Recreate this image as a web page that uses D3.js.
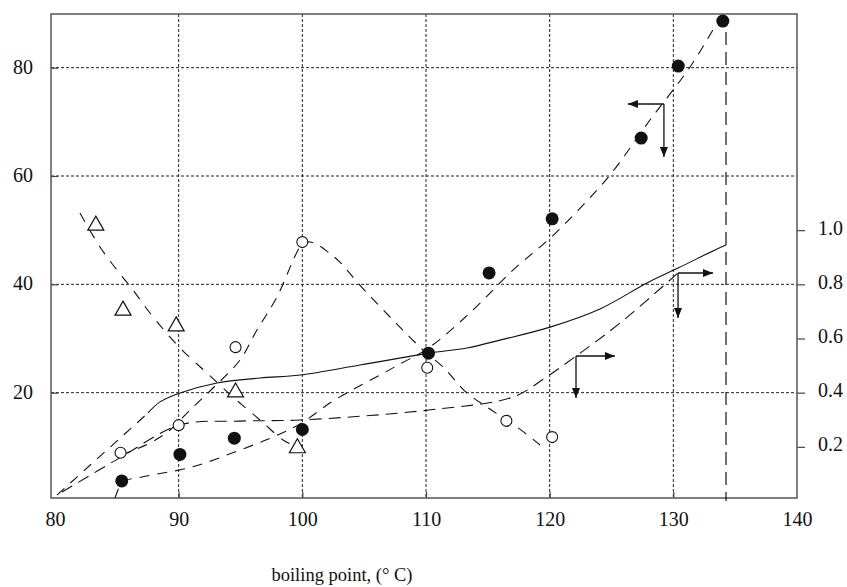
<!DOCTYPE html>
<html>
<head>
<meta charset="utf-8">
<script src="https://cdn.jsdelivr.net/npm/d3@7"></script>
<style>
body { margin: 0; background: #fff; }
svg, svg text { font-family: "Liberation Serif", "DejaVu Serif", serif; }
svg { display: block; }
</style>
</head>
<body>
<div id="chart"></div>
<script>
// x = boiling point (deg C); left-axis values unless noted
const xTicks = [80, 90, 100, 110, 120, 130, 140];
const xGrid = [90, 100, 110, 120, 130];
const leftTicks = [20, 40, 60, 80];
const rightTicks = [0.2, 0.4, 0.6, 0.8, 1.0];

const filledPts = [[85.4,3.7],[90.1,8.6],[94.5,11.6],[100.0,13.2],[110.2,27.3],[115.1,42.1],[120.2,52.1],[127.4,67.0],[130.4,80.3],[134.0,88.6]];
const openPts = [[85.3,8.9],[90.0,14.0],[94.6,28.4],[100.0,47.8],[110.1,24.6],[116.5,14.8],[120.2,11.8]];
const trianglePts = [[83.3,51.3],[85.5,35.6],[89.8,32.7],[94.6,20.5],[99.6,10.2]];

// fitted curves, left axis
const fitFilled = [[84.85,0.55],[85.09,2.03],[85.42,3.51],[87.03,4.43],[91.08,6.28],[94.96,9.41],[97.63,11.81],[99.81,14.21],[102.48,18.46],[105.23,21.97],[107.9,25.29],[110.32,28.43],[113.8,35.26],[117.03,42.64],[120.03,48.5],[122.6,54.4],[124.88,60.18],[128.11,70.33],[131.35,80.12],[133.53,88.24]];
const fitOpen = [[85.34,8.49],[87.68,10.71],[89.3,13.11],[90.92,16.8],[92.78,20.86],[94.96,26.03],[96.33,31.57],[97.95,37.66],[99.57,45.97],[100.05,47.63],[100.62,47.81],[101.27,47.26],[102.07,45.97],[103.04,44.12],[104.5,40.24],[107.33,33.41],[109.76,27.87],[111.37,24.74],[113.31,19.94],[114.93,17.35],[117.36,13.66],[119.22,10.34]];
const fitTriangle = [[82.02,53.17],[83.64,46.89],[85.01,42.64],[86.31,38.95],[87.68,34.71],[90.11,28.24],[92.29,23.63],[94.39,19.2],[96.58,14.95],[98.44,11.26],[99.41,10.15]];

// right axis curves
const solidCurve = [[87.52,0.325],[88.49,0.366],[90.11,0.399],[93.1,0.436],[96.58,0.454],[99.81,0.465],[104.66,0.502],[110.24,0.546],[113.31,0.565],[115.98,0.594],[120.03,0.642],[124.07,0.709],[127.87,0.805],[130.38,0.86],[133.37,0.927],[134.26,0.945]];
const solidLeadIn = [[80.16,0.022],[87.52,0.325]];
const dashedRight = [[80.57,0.033],[85.34,0.162],[90.11,0.281],[94.96,0.295],[99.81,0.299],[110.24,0.336],[117.03,0.384],[119.62,0.454],[122.13,0.535],[125.69,0.657],[130.38,0.842]];

// vertical dashed drop at the last point (left units)
const dropX = 134.26;
const dropY = [86.6, 0];

// arrows: corner [x, y], horizontal tip x, vertical tip y (left units)
const arrowCorner = [[129.24,73.29],[130.38,42.09],[122.13,26.77]];
const arrowTipX = [126.33, 133.21, 125.28];
const arrowTipY = [63.5, 33.78, 19.01];

const W = 847, H = 587;
const frame = {left: 51, right: 797, top: 14, bottom: 498};
const serif = "'Liberation Serif', 'DejaVu Serif', serif";

const x = d3.scaleLinear().domain([80, 140]).range([55, 797]);
const y = d3.scaleLinear().domain([0, 90]).range([501, 13.5]);
const yR = d3.scaleLinear().domain([0, 1.8]).range([501, 13.5]);

const svg = d3.select("#chart").append("svg")
    .attr("width", W).attr("height", H);

svg.append("rect").attr("width", W).attr("height", H).attr("fill", "#fff");

// grid
const grid = svg.append("g").attr("stroke", "#222").attr("stroke-width", 1)
    .attr("stroke-dasharray", "3,2");
grid.selectAll(".gx").data(xGrid).enter().append("line")
    .attr("x1", d => x(d)).attr("x2", d => x(d))
    .attr("y1", frame.top).attr("y2", frame.bottom);
grid.selectAll(".gy").data(leftTicks).enter().append("line")
    .attr("x1", frame.left).attr("x2", frame.right)
    .attr("y1", d => y(d)).attr("y2", d => y(d));

// axes
const leftAxis = svg.append("g").attr("transform", "translate(" + frame.left + ",0)")
    .call(d3.axisLeft(y).tickValues(leftTicks).tickSize(-7).tickPadding(18));
const rightAxis = svg.append("g").attr("transform", "translate(" + frame.right + ",0)")
    .call(d3.axisRight(yR).tickValues(rightTicks).tickSize(8).tickPadding(13).tickFormat(d3.format(".1f")));
const bottomAxis = svg.append("g").attr("transform", "translate(0," + frame.bottom + ")")
    .call(d3.axisBottom(x).tickValues(xTicks).tickSize(-6).tickPadding(14));

[leftAxis, rightAxis, bottomAxis].forEach(a => {
    a.attr("font-family", serif).attr("font-size", 20);
    a.select(".domain").remove();
    a.selectAll("line").attr("stroke", "#444").attr("stroke-width", 1.2);
    a.selectAll("text").attr("fill", "#111").style("font-family", serif);
});
rightAxis.selectAll("text").attr("dy", "0.2em");
leftAxis.selectAll("text").attr("dy", "0.28em");
bottomAxis.selectAll(".tick").filter(d => d === 80 || d === 140).select("line").remove();

// frame
svg.append("rect")
    .attr("x", frame.left).attr("y", frame.top)
    .attr("width", frame.right - frame.left).attr("height", frame.bottom - frame.top)
    .attr("fill", "none").attr("stroke", "#555").attr("stroke-width", 1.5);

// curves
const lineL = d3.line().x(d => x(d[0])).y(d => y(d[1])).curve(d3.curveCatmullRom);
const lineR = d3.line().x(d => x(d[0])).y(d => yR(d[1])).curve(d3.curveCatmullRom);

const curves = svg.append("g").attr("fill", "none").attr("stroke", "#111").attr("stroke-width", 1.1);
curves.append("path").attr("d", lineL(fitFilled)).attr("stroke-dasharray", "10,8");
curves.append("path").attr("d", lineL(fitOpen)).attr("stroke-dasharray", "10,8");
curves.append("path").attr("d", lineL(fitTriangle)).attr("stroke-dasharray", "10,9");
curves.append("path").attr("d", lineR(dashedRight)).attr("stroke-dasharray", "12,7");
curves.append("path").attr("d", lineR(solidLeadIn)).attr("stroke-dasharray", "10,8");
curves.append("path").attr("d", lineR(solidCurve));
curves.append("line")
    .attr("x1", x(dropX)).attr("x2", x(dropX))
    .attr("y1", y(dropY[0])).attr("y2", y(dropY[1]))
    .attr("stroke-dasharray", "13,7").attr("stroke-width", 1.2);

// arrows
svg.append("defs").append("marker")
    .attr("id", "ah").attr("viewBox", "0 0 10 8")
    .attr("refX", 10).attr("refY", 4)
    .attr("markerWidth", 11).attr("markerHeight", 8)
    .attr("markerUnits", "userSpaceOnUse").attr("orient", "auto")
    .append("path").attr("d", "M0,0L10,4L0,8Z").attr("fill", "#111");

const arrows = svg.append("g").attr("stroke", "#111").attr("stroke-width", 1.3);
arrows.selectAll(".ah").data(arrowCorner).enter().append("line")
    .attr("x1", d => x(d[0])).attr("y1", d => y(d[1]))
    .attr("x2", (d, i) => x(arrowTipX[i])).attr("y2", d => y(d[1]))
    .attr("marker-end", "url(#ah)");
arrows.selectAll(".av").data(arrowCorner).enter().append("line")
    .attr("x1", d => x(d[0])).attr("y1", d => y(d[1]))
    .attr("x2", d => x(d[0])).attr("y2", (d, i) => y(arrowTipY[i]))
    .attr("marker-end", "url(#ah)");

// markers
svg.append("g").selectAll("path").data(trianglePts).enter().append("path")
    .attr("d", d => {
        const px = x(d[0]), py = y(d[1]);
        return "M" + px + "," + (py - 7) + "L" + (px + 8) + "," + (py + 7) + "L" + (px - 8) + "," + (py + 7) + "Z";
    })
    .attr("fill", "#fff").attr("stroke", "#111").attr("stroke-width", 1.2);
svg.append("g").selectAll("circle").data(openPts).enter().append("circle")
    .attr("cx", d => x(d[0])).attr("cy", d => y(d[1])).attr("r", 5.5)
    .attr("fill", "#fff").attr("stroke", "#111").attr("stroke-width", 1.1);
svg.append("g").selectAll("circle").data(filledPts).enter().append("circle")
    .attr("cx", d => x(d[0])).attr("cy", d => y(d[1])).attr("r", 6.5)
    .attr("fill", "#111");

// axis title
svg.append("text")
    .attr("x", 342).attr("y", 581)
    .attr("text-anchor", "middle")
    .attr("font-size", 18.5).attr("fill", "#111")
    .style("font-family", serif)
    .text("boiling point, (\u00b0 C)");
</script>
</body>
</html>
